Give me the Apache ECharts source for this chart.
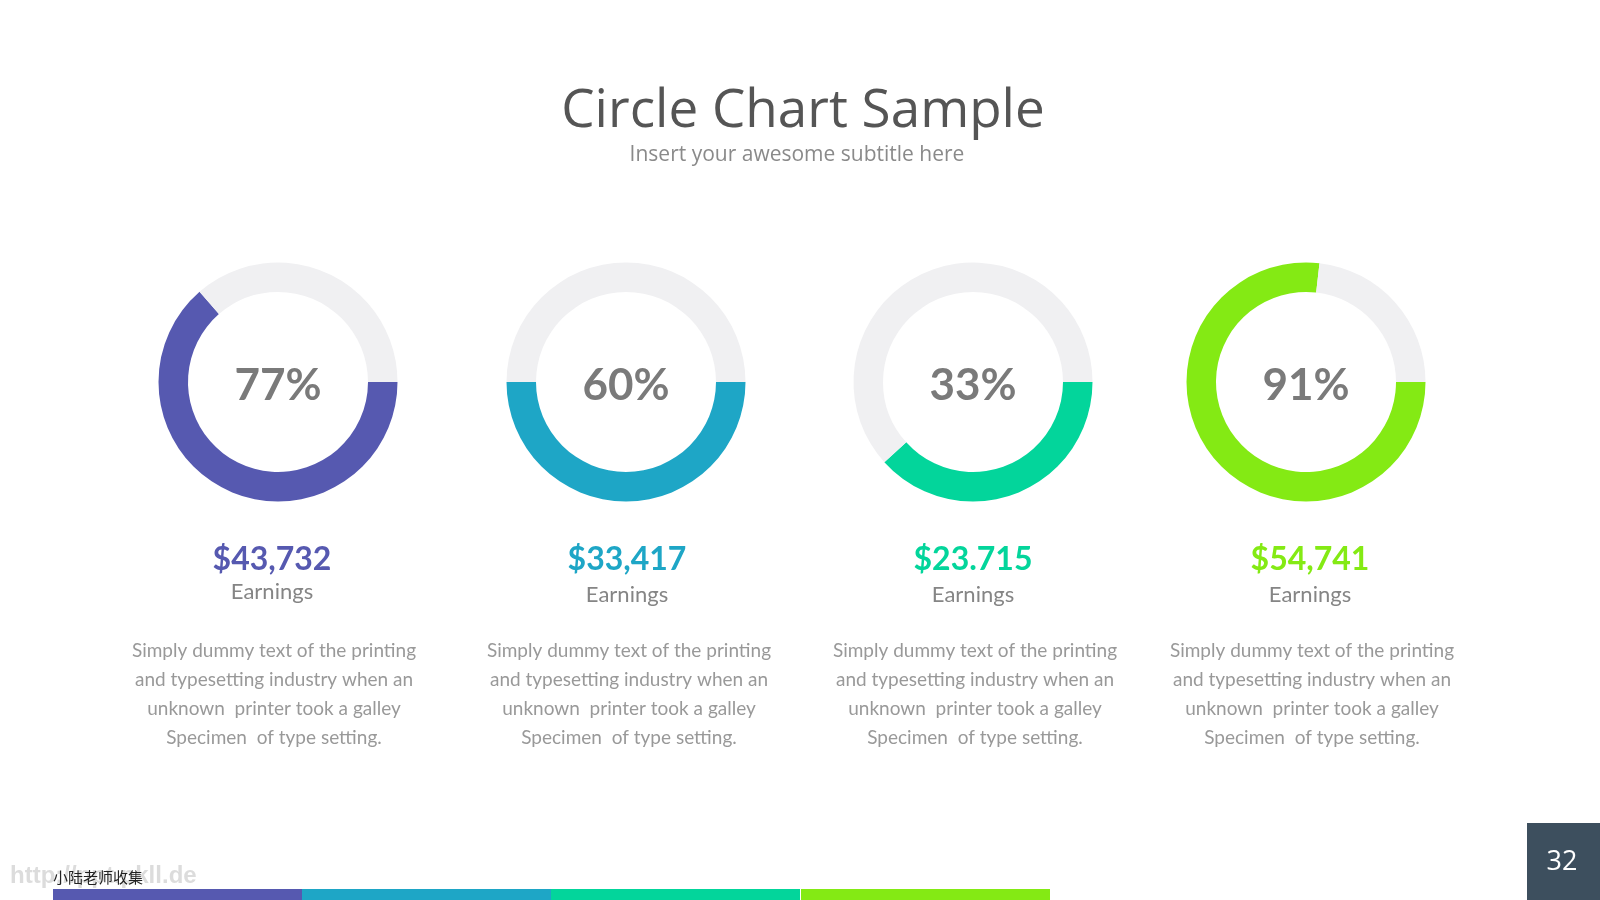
<!DOCTYPE html>
<html>
<head>
<meta charset="utf-8">
<script src="https://cdn.jsdelivr.net/npm/echarts@6/dist/echarts.min.js"></script>
<style>
  html, body { margin: 0; padding: 0; background: #ffffff; }
  #chart { width: 1600px; height: 900px; }
</style>
</head>
<body>
<div id="chart"></div>
<script>
// ---- data ----
const percentLabels = ['77%', '60%', '33%', '91%'];
const arcShares = [63.6, 50, 38.3, 76.8];           // filled share of each ring
const amounts = ['$43,732', '$33,417', '$23.715', '$54,741'];
const captions = ['Earnings', 'Earnings', 'Earnings', 'Earnings'];
const bodyLines = [
  'Simply dummy text of the printing',
  'and typesetting industry when an',
  'unknown  printer took a galley',
  'Specimen  of type setting.'
];
const colors = ['#5659b0', '#1ea6c6', '#03d59b', '#84ea14'];
const titleText = 'Circle Chart Sample';
const subtitleText = 'Insert your awesome subtitle here';
const pageNumber = '32';

// ---- layout ----
const pieCenters = [[278, 382], [626, 382], [973, 382], [1306, 382]];
const textCenters = [272, 627, 973, 1310];
const captionY = [592, 595, 595, 595];
const trackColor = '#f0f0f2';

const chart = echarts.init(document.getElementById('chart'), null, { renderer: 'canvas' });

const series = arcShares.map((v, i) => ({
  type: 'pie',
  silent: true,
  animation: false,
  center: pieCenters[i],
  radius: [90, 119.5],
  startAngle: 0,
  clockwise: true,
  avoidLabelOverlap: false,
  label: { show: false },
  labelLine: { show: false },
  emphasis: { disabled: true },
  data: [
    {
      value: v,
      itemStyle: { color: colors[i] },
      label: {
        show: true,
        position: 'center',
        formatter: percentLabels[i],
        fontFamily: 'Lato',
        fontWeight: 700,
        fontSize: 44,
        color: '#7a7a7a',
        offset: [0, 4]
      }
    },
    { value: 100 - v, itemStyle: { color: trackColor } }
  ]
}));

const graphics = [];
// title + subtitle
graphics.push({
  type: 'text', x: 803, y: 112,
  style: { text: titleText, font: '400 53px "Open Sans"', fill: '#555555', textAlign: 'center', textVerticalAlign: 'middle' }
});
graphics.push({
  type: 'text', x: 797, y: 155,
  style: { text: subtitleText, font: '400 21px "Open Sans"', fill: '#8a8a8a', textAlign: 'center', textVerticalAlign: 'middle' }
});

amounts.forEach((a, i) => {
  graphics.push({
    type: 'text', x: textCenters[i], y: 560,
    style: { text: a, font: '700 32px Lato', fill: colors[i], textAlign: 'center', textVerticalAlign: 'middle' }
  });
  graphics.push({
    type: 'text', x: textCenters[i], y: captionY[i],
    style: { text: captions[i], font: '400 22px Lato', fill: '#858585', textAlign: 'center', textVerticalAlign: 'middle' }
  });
  bodyLines.forEach((line, j) => {
    graphics.push({
      type: 'text', x: textCenters[i] + 2, y: 651 + j * 29,
      style: { text: line, font: '400 19px Lato', fill: '#999999', textAlign: 'center', textVerticalAlign: 'middle' }
    });
  });
});

// bottom colour bar
const barStarts = [53, 302, 551, 801];
barStarts.forEach((x, i) => {
  graphics.push({
    type: 'rect', shape: { x: x, y: 889, width: 249, height: 11 },
    style: { fill: colors[i] }
  });
});

// page number box
graphics.push({
  type: 'rect', shape: { x: 1527, y: 823, width: 73, height: 77 },
  style: { fill: '#3d4f5e' }
});
graphics.push({
  type: 'text', x: 1562, y: 862,
  style: { text: pageNumber, font: '400 27px "Open Sans"', fill: '#ffffff', textAlign: 'center', textVerticalAlign: 'middle' }
});

// watermark
graphics.push({
  type: 'text', x: 10, y: 876,
  style: { text: 'http://ppt.pkll.de', font: '700 24px "Liberation Sans"', fill: '#dcdcdc', textVerticalAlign: 'middle' }
});
graphics.push({
  type: 'text', x: 53, y: 877,
  style: { text: '小陆老师收集', font: '400 15px "Noto Sans CJK SC"', fill: '#222222', textVerticalAlign: 'middle' }
});

chart.setOption({
  backgroundColor: '#ffffff',
  animation: false,
  series: series,
  graphic: graphics
});
</script>
</body>
</html>
